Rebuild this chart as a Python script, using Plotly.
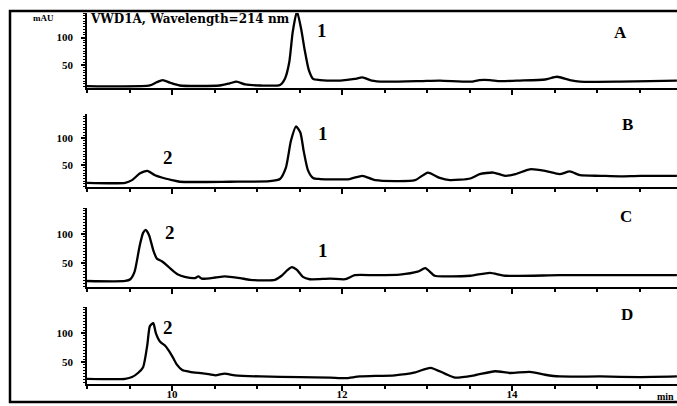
import plotly.graph_objects as go

W, H = 677, 406

# ---------------- data (time in min, signal in mAU) ----------------
t_A = [9.0, 9.74, 9.82, 9.89, 9.98, 10.09, 10.56, 10.68, 10.76, 10.86, 11.04, 11.27, 11.33, 11.38,
       11.42, 11.47, 11.52, 11.56, 11.61, 11.66, 11.74, 11.98, 12.15, 12.24, 12.35, 12.5, 12.92,
       13.15, 13.51, 13.62, 13.74, 13.86, 14.09, 14.39, 14.53, 14.68, 14.8, 15.27, 15.62, 15.94]
v_A = [11, 12, 18, 22, 17, 12, 12, 16, 19, 14, 12, 13, 25, 55,
       110, 148, 115, 78, 40, 24, 22, 21, 24, 27, 21, 19, 20,
       21, 19, 22, 22, 20, 21, 23, 28, 22, 19, 19, 20, 21]

t_B = [9.0, 9.45, 9.53, 9.62, 9.71, 9.8, 9.92, 10.0, 10.09, 10.68, 11.15, 11.27, 11.34, 11.4,
       11.46, 11.51, 11.55, 11.6, 11.66, 11.74, 12.09, 12.24, 12.39, 12.86, 13.01, 13.15, 13.27,
       13.51, 13.62, 13.78, 13.92, 14.04, 14.21, 14.39, 14.56, 14.68, 14.8, 15.04, 15.27, 15.51, 15.94]
v_B = [17, 17, 22, 34, 39, 31, 25, 22, 19, 19, 20, 24, 45, 95,
       121, 110, 75, 40, 26, 24, 24, 30, 22, 22, 36, 26, 22,
       25, 33, 36, 30, 33, 42, 39, 33, 38, 31, 30, 29, 30, 30]

t_C = [9.0, 9.45, 9.51, 9.56, 9.62, 9.66, 9.69, 9.73, 9.78, 9.82, 9.88, 9.94, 10.0, 10.07, 10.15,
       10.27, 10.31, 10.35, 10.51, 10.62, 10.8, 10.92, 11.21, 11.29, 11.36, 11.41, 11.47, 11.54,
       11.62, 11.86, 12.04, 12.15, 12.39, 12.68, 12.89, 12.98, 13.09, 13.21, 13.51, 13.74, 13.92,
       14.56, 15.27, 15.94]
v_C = [19, 19, 22, 35, 80, 102, 107, 98, 72, 58, 53, 46, 38, 30, 26,
       24, 27, 23, 25, 27, 24, 21, 21, 28, 38, 43, 38, 26,
       22, 23, 22, 29, 29, 30, 35, 41, 28, 27, 28, 33, 28,
       29, 29, 29]

t_D = [9.0, 9.45, 9.53, 9.6, 9.66, 9.71, 9.74, 9.78, 9.81, 9.86, 9.92, 9.96, 10.01, 10.06, 10.12,
       10.21, 10.39, 10.51, 10.62, 10.74, 11.04, 11.51, 11.86, 12.04, 12.21, 12.62, 12.86, 13.04,
       13.21, 13.33, 13.56, 13.8, 13.98, 14.21, 14.39, 14.56, 15.04, 15.51, 15.94]
v_D = [21, 21, 24, 31, 41, 80, 112, 117, 100, 85, 78, 70, 58, 45, 36,
       33, 30, 27, 30, 27, 25, 24, 23, 22, 25, 27, 32, 40,
       30, 23, 27, 34, 31, 33, 28, 25, 25, 24, 25]

x_ticks = [10, 12, 14]
x_tick_labels = ["10", "12", "14"]
y_ticks = [50, 100]
y_tick_labels = ["50", "100"]

panels = ["A", "B", "C", "D"]
series = [(t_A, v_A), (t_B, v_B), (t_C, v_C), (t_D, v_D)]

# ---------------- layout helpers ----------------
def py(p):  # pixel-from-top -> paper y
    return 1 - p / H

def px(p):
    return p / W

# (axis line px, top px, y range)
geom = [
    (88, 13, [7.4, 145]),
    (187, 114, [9.3, 144]),
    (287, 208, [8.6, 145]),
    (384, 307, [12, 145]),
]

x_dom = [px(87), 1.0]
x_rng = [9.0, 9.0 + (W - 87) / 85.0]

fig = go.Figure()
serif = "Liberation Serif"
for i, ((t, v), (bot, top, yr)) in enumerate(zip(series, geom)):
    n = "" if i == 0 else str(i + 1)
    fig.add_trace(go.Scatter(x=t, y=v, mode="lines",
                             line=dict(color="black", width=2.3, shape="spline", smoothing=0.6),
                             xaxis="x" + n, yaxis="y" + n, showlegend=False, hoverinfo="skip"))
    last = (i == 3)
    fig.layout["xaxis" + n] = dict(
        domain=x_dom, range=x_rng, anchor="y" + n, showline=True, linecolor="black", linewidth=2,
        ticks="outside", tickvals=x_ticks, ticktext=x_tick_labels, ticklen=5, tickwidth=1.5,
        tickcolor="black", showticklabels=last, showgrid=False, zeroline=False,
        ticklabelstandoff=-6, automargin=False,
        tickfont=dict(family=serif, size=11, color="black", weight="bold"),
        minor=dict(dtick=0.5, tick0=9.0, ticks="outside", ticklen=3, tickwidth=1.5, tickcolor="black"),
        **({} if i == 3 else {"matches": "x"}))
    fig.layout["yaxis" + n] = dict(
        domain=[py(bot), py(top)], range=yr, anchor="x" + n, showline=True, linecolor="black",
        linewidth=1.5, ticks="outside", tickvals=y_ticks, ticktext=y_tick_labels, ticklen=4,
        tickwidth=1.5, tickcolor="black", showgrid=False, zeroline=False,
        ticklabelstandoff=6, automargin=False,
        tickfont=dict(family=serif, size=11, color="black", weight="bold"),
        minor=dict(dtick=5, tick0=0, ticks="outside", ticklen=2, tickwidth=1, tickcolor="black"))

# ---------------- annotations ----------------
def ann(text, x, y, size, xanchor="center", family=serif):
    return dict(text=text, x=px(x), y=py(y), xref="paper", yref="paper", showarrow=False,
                xanchor=xanchor, yanchor="middle",
                font=dict(family=family, size=size, color="black", weight="bold"))

annotations = [
    ann("mAU", 44, 18, 9),
    ann("VWD1A, Wavelength=214 nm", 88, 19, 12, xanchor="left", family="DejaVu Serif"),
    ann("1", 322, 31, 19),
    ann("A", 620, 33, 17),
    ann("2", 168, 157, 19),
    ann("1", 323, 134, 19),
    ann("B", 627, 124, 17),
    ann("2", 170, 232, 19),
    ann("1", 323, 250, 19),
    ann("C", 626, 217, 17),
    ann("2", 168, 327, 19),
    ann("D", 627, 314, 17),
    ann("min", 676, 396, 10, xanchor="right"),
]

shapes = [
    dict(type="rect", xref="paper", yref="paper", x0=px(10), x1=px(690), y0=py(402), y1=py(11),
         line=dict(color="black", width=2.5), fillcolor="rgba(0,0,0,0)", layer="above"),
]

fig.update_layout(width=W, height=H, margin=dict(l=0, r=0, t=0, b=0),
                  paper_bgcolor="white", plot_bgcolor="white",
                  annotations=annotations, shapes=shapes)

fig.write_html("out.html", config={"displayModeBar": False},
               post_script="document.body.style.margin='0';document.body.style.overflow='hidden';")
